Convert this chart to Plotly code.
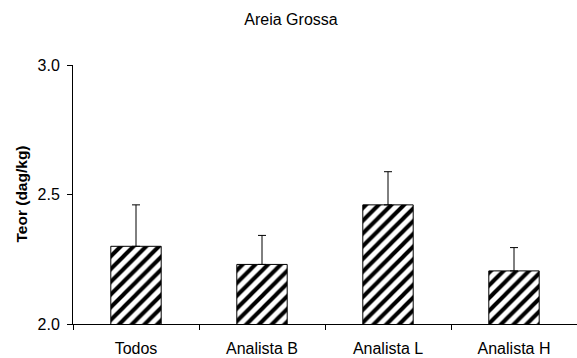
import plotly.graph_objects as go

categories = ["Todos", "Analista B", "Analista L", "Analista H"]
values = [2.30, 2.23, 2.46, 2.205]
errors = [0.16, 0.112, 0.128, 0.09]
y_ticks = [2.0, 2.5, 3.0]
y_tick_labels = ["2.0", "2.5", "3.0"]

W, H = 577, 358
ML, MR, MT, MB = 73, 0, 65, 34
FONT = "Liberation Sans, Arial, sans-serif"
FS = 16

fig = go.Figure()
fig.add_trace(go.Bar(
    x=categories,
    y=values,
    width=0.4,
    marker=dict(
        color="white",
        line=dict(color="black", width=1),
        pattern=dict(shape="/", fgcolor="black", bgcolor="white", fgopacity=1,
                     size=9, solidity=0.45, fillmode="replace"),
    ),
    error_y=dict(type="data", array=errors, symmetric=False, arrayminus=[0]*4,
                 color="black", thickness=1, width=4),
))

fig.update_layout(
    width=W, height=H,
    margin=dict(l=ML, r=MR, t=MT, b=MB),
    paper_bgcolor="white", plot_bgcolor="white",
    showlegend=False,
    font=dict(family=FONT, size=FS, color="black"),
    title=dict(text="Areia Grossa", x=291/W, xref="container", xanchor="center",
               y=1-19/H, yref="container", yanchor="middle",
               font=dict(family=FONT, size=FS, color="black")),
    xaxis=dict(
        showline=True, linecolor="black", linewidth=1,
        ticks="outside", tickson="boundaries", ticklen=5, tickcolor="black",
        showgrid=False, zeroline=False, range=[-0.5, 3.5], automargin=False,
        ticklabelstandoff=10,
        tickfont=dict(family=FONT, size=FS, color="black"),
    ),
    yaxis=dict(
        range=[2.0, 3.0], tickvals=y_ticks, ticktext=y_tick_labels,
        showline=True, linecolor="black", linewidth=1,
        ticks="outside", ticklen=5, tickcolor="black",
        showgrid=False, zeroline=False, automargin=False,
        ticklabelstandoff=4,
        tickfont=dict(family=FONT, size=FS, color="black"),
    ),
    annotations=[dict(
        text="<b>Teor (dag/kg)</b>", textangle=-90,
        xref="paper", yref="paper", x=(21-ML)/(W-ML-MR), y=0.5,
        xanchor="center", yanchor="middle", showarrow=False,
        font=dict(family=FONT, size=15.5, color="black"),
    )],
)

fig.write_html("out.html")
